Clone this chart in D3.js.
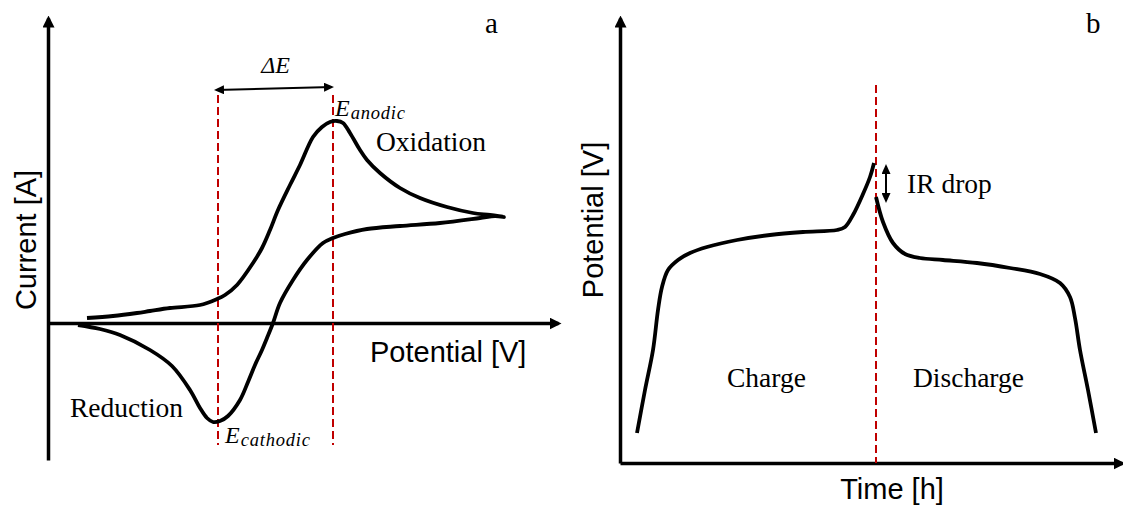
<!DOCTYPE html>
<html>
<head>
<meta charset="utf-8">
<script src="https://cdn.jsdelivr.net/npm/d3@7"></script>
<style>
  html, body { margin: 0; padding: 0; background: #fff; }
  svg { display: block; }
</style>
</head>
<body>
<svg id="fig" width="1123" height="506"></svg>
<script>
// ---------- Panel a: cyclic voltammogram (arbitrary units) ----------
// Reduction sweep first, then the oxidation sweep back.
const cvPotential = [6, 10.4, 14.4, 20.4, 24.8, 28.4, 30.4, 31.8, 33, 34.4, 36, 38.4, 40, 41.4, 42.8, 43.8, 45, 46.4, 49, 51.8, 55, 57, 59.4, 63.8, 70.4, 78.4, 86.4, 89.4, 91.2,
                     88.4, 85, 79.8, 74.4, 70.4, 66.4, 63.8, 62.4, 60.4, 59, 57.8, 56.4, 54.8, 53, 50.4, 48.4, 46, 44.4, 42.8, 41, 37.8, 35.4, 33.8, 30.4, 24.4, 20.4, 17.8, 13, 7.8];
const cvCurrent   = [-1, -3, -6, -13.5, -21.5, -33.5, -42.5, -47.5, -49.5, -49, -46.5, -38.5, -29.5, -21, -13.5, -7.5, 0, 10, 21.5, 31.5, 40, 42.5, 44.5, 47, 48.5, 50, 52.5, 53.5, 53,
                     54, 55, 58, 62.5, 67.5, 75, 81.5, 86.5, 95, 100, 101, 100.5, 98, 93, 79, 69, 56.5, 46.5, 37.5, 30, 19, 14, 12, 9, 7.5, 6, 5, 3.5, 2.5];
const peakNames     = ["cathodic", "anodic"];
const peakPotential = [34, 57];
const peakMarkerSpan = [-61, 114];         // extent of the dashed peak markers
const deltaELevel    = [116.5, 118];        // height of the ΔE arrow at each end

// ---------- Panel b: galvanostatic charge / discharge ----------
const chargeTime         = [3.4, 5, 6.6, 7.6, 8.4, 9.6, 11.6, 14, 17.4, 23.4, 30, 36.6, 43.4, 45, 46.6, 48.6, 50, 50.8];
const chargePotential    = [15, 36.5, 56.5, 76.5, 88, 96.5, 101.5, 105, 108, 111.5, 114, 115.5, 116.5, 118, 124, 134.5, 143, 150];
const dischargeTime      = [51.2, 52.6, 54.6, 57, 60, 64.6, 71.4, 78, 84, 88, 90, 91, 92, 93.6, 95.2];
const dischargePotential = [133, 120.5, 110, 104.5, 102.5, 101.5, 100, 97.5, 94.5, 90, 83, 72.5, 56.5, 36.5, 15];
const switchTime   = 51.2;
const switchSpan   = [0, 189];
const irDropTime   = 53.2;
const irDropRange  = [148.5, 131];

// ---------- Scales ----------
const xA = d3.scaleLinear().domain([0, 102]).range([48, 558]);
const yA = d3.scaleLinear().domain([-68.5, 152.5]).range([460, 18]);
const xB = d3.scaleLinear().domain([0, 100.4]).range([620, 1122]);
const yB = d3.scaleLinear().domain([0, 222.5]).range([463, 18]);

const svg = d3.select("#fig");
const SERIF = "'Liberation Serif', 'Times New Roman', serif";
const SANS  = "'Liberation Sans', Arial, sans-serif";
const RED = "#c00000";
const CURVE_W = 3.8;

// ---------- Arrowheads ----------
const defs = svg.append("defs");
defs.append("marker")
  .attr("id", "axisHead").attr("markerUnits", "userSpaceOnUse")
  .attr("viewBox", "0 0 12 12").attr("markerWidth", 12).attr("markerHeight", 12)
  .attr("refX", 9).attr("refY", 6).attr("orient", "auto")
  .append("path").attr("d", "M0,0L12,6L0,12Z").attr("fill", "#000");
defs.append("marker")
  .attr("id", "smallHead").attr("markerUnits", "userSpaceOnUse")
  .attr("viewBox", "0 0 10 9").attr("markerWidth", 10).attr("markerHeight", 9)
  .attr("refX", 8).attr("refY", 4.5).attr("orient", "auto-start-reverse")
  .append("path").attr("d", "M0,0L10,4.5L0,9Z").attr("fill", "#000");

function styleAxis(g) {
  g.select(".domain")
    .attr("stroke", "#000")
    .attr("stroke-width", 3.5)
    .attr("marker-end", "url(#axisHead)");
}

// ---------- Panel a axes ----------
svg.append("g")
  .attr("transform", `translate(0,${yA(0)})`)
  .call(d3.axisBottom(xA).tickValues([]).tickSizeOuter(0))
  .call(styleAxis);
svg.append("g")
  .attr("transform", `translate(${xA(0)},0)`)
  .call(d3.axisLeft(yA).tickValues([]).tickSizeOuter(0))
  .call(styleAxis);

// ---------- Panel b axes ----------
svg.append("g")
  .attr("transform", `translate(0,${yB(0)})`)
  .call(d3.axisBottom(xB).tickValues([]).tickSizeOuter(0))
  .call(styleAxis);
svg.append("g")
  .attr("transform", `translate(${xB(0)},0)`)
  .call(d3.axisLeft(yB).tickValues([]).tickSizeOuter(0))
  .call(styleAxis);

// ---------- Peak markers (panel a) ----------
svg.append("g").selectAll("line")
  .data(peakPotential)
  .join("line")
  .attr("x1", d => xA(d)).attr("x2", d => xA(d))
  .attr("y1", yA(peakMarkerSpan[1])).attr("y2", yA(peakMarkerSpan[0]))
  .attr("stroke", RED).attr("stroke-width", 2).attr("stroke-dasharray", "8,4");

// ---------- CV curve ----------
const lineA = d3.line().x(d => xA(d[0])).y(d => yA(d[1])).curve(d3.curveCatmullRom.alpha(0.5));
svg.append("path")
  .datum(d3.zip(cvPotential, cvCurrent))
  .attr("d", lineA)
  .attr("fill", "none").attr("stroke", "#000").attr("stroke-width", CURVE_W)
  .attr("stroke-linejoin", "round");

// ΔE arrow between the two peaks
svg.append("line")
  .attr("x1", xA(peakPotential[0] - 0.4)).attr("y1", yA(deltaELevel[0]))
  .attr("x2", xA(peakPotential[1] - 0.2)).attr("y2", yA(deltaELevel[1]))
  .attr("stroke", "#000").attr("stroke-width", 2)
  .attr("marker-start", "url(#smallHead)").attr("marker-end", "url(#smallHead)");

// ---------- Panel b: switch line, curves, IR drop ----------
svg.append("line")
  .attr("x1", xB(switchTime)).attr("x2", xB(switchTime))
  .attr("y1", yB(switchSpan[1])).attr("y2", yB(switchSpan[0]))
  .attr("stroke", RED).attr("stroke-width", 2).attr("stroke-dasharray", "8,4");

const lineB = d3.line().x(d => xB(d[0])).y(d => yB(d[1])).curve(d3.curveCatmullRom.alpha(0.5));
[[chargeTime, chargePotential], [dischargeTime, dischargePotential]].forEach(([t, v]) => {
  svg.append("path")
    .datum(d3.zip(t, v))
    .attr("d", lineB)
    .attr("fill", "none").attr("stroke", "#000").attr("stroke-width", CURVE_W)
    .attr("stroke-linejoin", "round");
});

svg.append("line")
  .attr("x1", xB(irDropTime)).attr("x2", xB(irDropTime))
  .attr("y1", yB(irDropRange[0])).attr("y2", yB(irDropRange[1]))
  .attr("stroke", "#000").attr("stroke-width", 2)
  .attr("marker-start", "url(#smallHead)").attr("marker-end", "url(#smallHead)");

// ---------- Text ----------
function txt(x, y, s, opts = {}) {
  return svg.append("text")
    .attr("x", x).attr("y", y)
    .attr("font-family", opts.family || SERIF)
    .attr("font-size", opts.size || 27.5)
    .attr("font-style", opts.style || "normal")
    .attr("text-anchor", opts.anchor || "start")
    .attr("fill", "#000")
    .text(s);
}

// panel letters
txt(485, 33, "a", { size: 29 });
txt(1086, 33, "b", { size: 29 });

// axis titles
txt(370, 362, "Potential [V]", { family: SANS, size: 29 });
svg.append("text")
  .attr("transform", "translate(36,240) rotate(-90)")
  .attr("text-anchor", "middle")
  .attr("font-family", SANS).attr("font-size", 29)
  .text("Current [A]");
svg.append("text")
  .attr("transform", "translate(603,220) rotate(-90)")
  .attr("text-anchor", "middle")
  .attr("font-family", SANS).attr("font-size", 29)
  .text("Potential [V]");
txt(892, 499, "Time [h]", { family: SANS, size: 29, anchor: "middle" });

// region labels
txt(376, 151, "Oxidation");
txt(70, 417, "Reduction");
txt(727, 387, "Charge");
txt(913, 387, "Discharge");
txt(907, 193, "IR drop");

// ΔE
txt((xA(peakPotential[0]) + xA(peakPotential[1])) / 2, 73, "ΔE", { size: 24, style: "italic", anchor: "middle" });

// peak potential labels
const peakLabelPos = [[xA(peakPotential[0]) + 7, 443], [xA(peakPotential[1]) + 2, 116]];
peakNames.forEach((name, i) => {
  const t = svg.append("text")
    .attr("x", peakLabelPos[i][0]).attr("y", peakLabelPos[i][1])
    .attr("font-family", SERIF).attr("font-style", "italic").attr("fill", "#000");
  t.append("tspan").attr("font-size", 24).text("E");
  t.append("tspan").attr("font-size", 18.5).attr("dx", 1).attr("dy", 3).attr("letter-spacing", 0.8).text(name);
});
</script>
</body>
</html>
